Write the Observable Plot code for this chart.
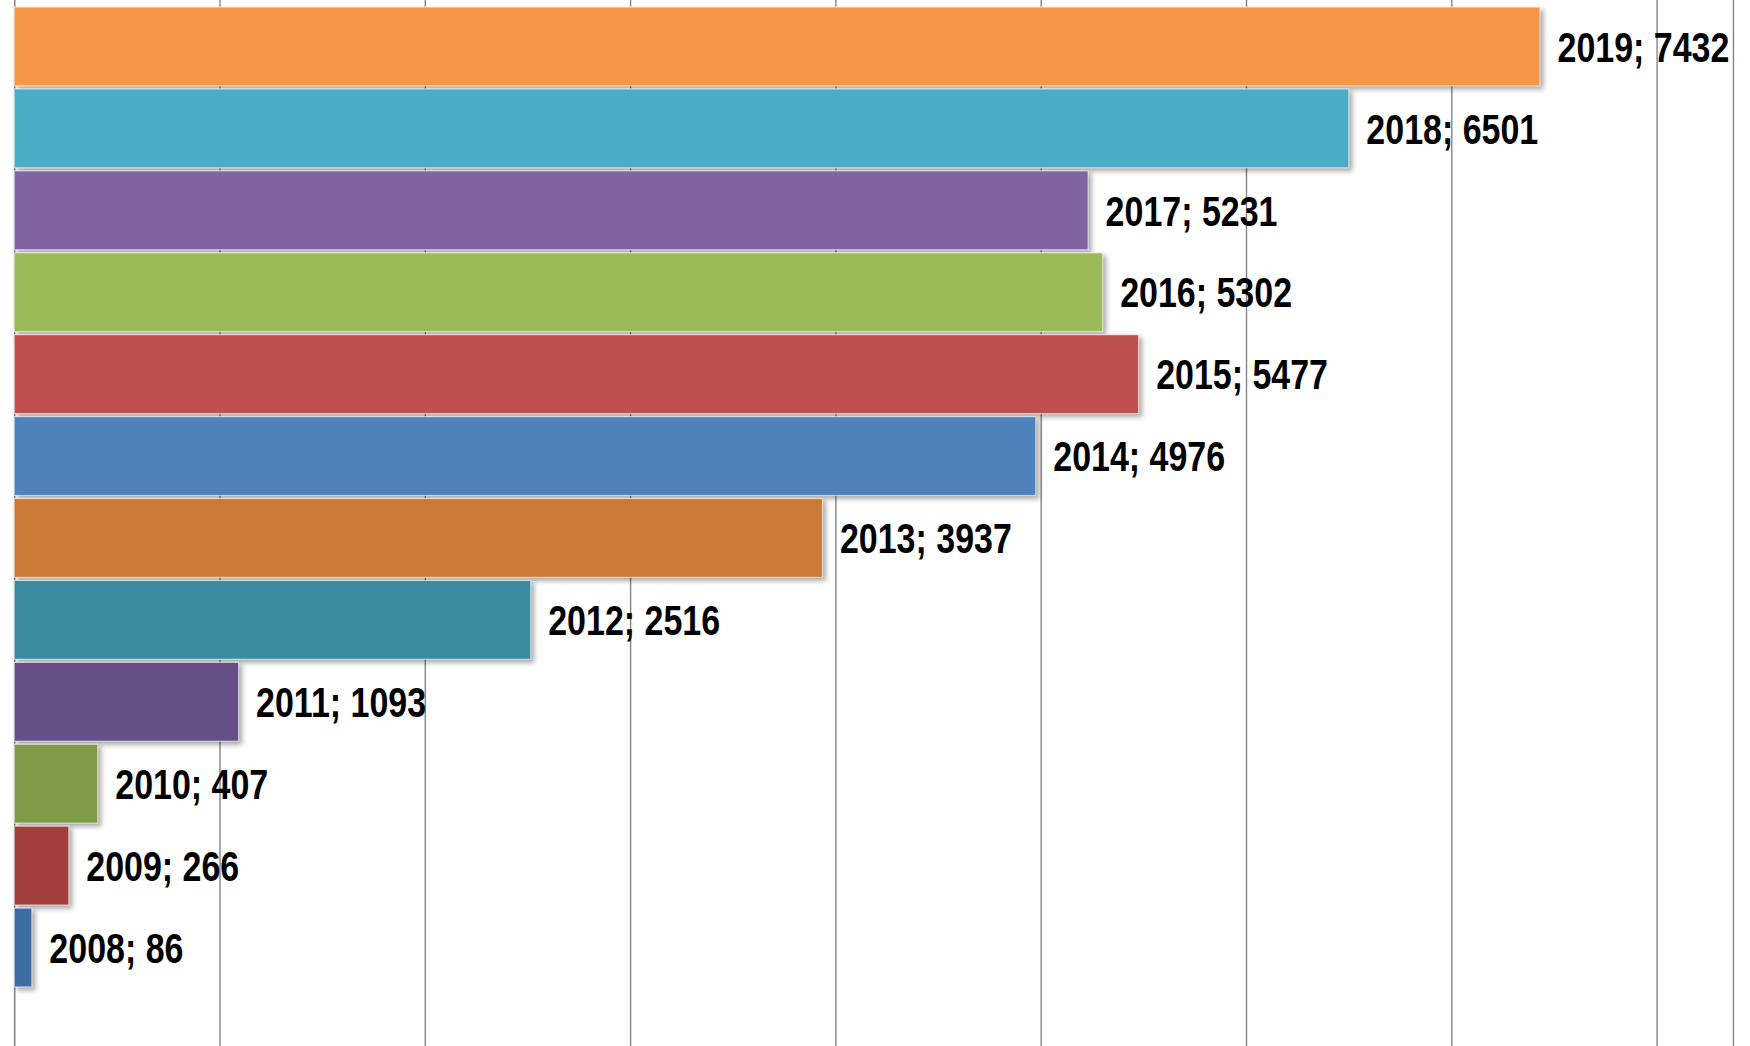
<!DOCTYPE html>
<html>
<head>
<meta charset="utf-8">
<script src="https://cdn.jsdelivr.net/npm/d3@7"></script>
<script src="https://cdn.jsdelivr.net/npm/@observablehq/plot@0.6"></script>
<style>
  html, body { margin: 0; padding: 0; background: #ffffff; }
  #chart svg { display: block; }
</style>
</head>
<body>
<div id="chart"></div>
<script>
// ---- data ----
const years  = [2008, 2009, 2010, 2011, 2012, 2013, 2014, 2015, 2016, 2017, 2018, 2019];
const values = [86, 266, 407, 1093, 2516, 3937, 4976, 5477, 5302, 5231, 6501, 7432];
const barColors = ["#3E6CA5", "#A13F3D", "#7F9B48", "#664E87", "#3A8BA0", "#CB7937",
                   "#4F81BD", "#C0504D", "#9BBB59", "#8064A2", "#4BACC6", "#F79646"];
const gridTicks = [1000, 2000, 3000, 4000, 5000, 6000, 7000, 8000];
const frameEdge = [8372];

const rows = years.map((y, i) => ({year: y, value: values[i], color: barColors[i],
                                   label: `${y}; ${values[i]}`}));

const chart = Plot.plot({
  width: 1750,
  height: 1046,
  marginTop: 0, marginBottom: 0, marginLeft: 0, marginRight: 0,
  x: {domain: [0, 8000], range: [14.2, 1656.6], axis: null},
  y: {domain: years.slice().reverse(), range: [4, 990], padding: 0.037, round: false, axis: null},
  color: {type: "identity"},
  marks: [
    Plot.ruleX(gridTicks, {stroke: "#858585", strokeWidth: 1.4}),
    Plot.ruleX(frameEdge, {stroke: "#858585", strokeWidth: 1.4}),
    Plot.ruleX([0], {stroke: "#858585", strokeWidth: 1.6}),
    Plot.barX(rows, {x: "value", y: "year", fill: "color",
                     stroke: "#ffffff", strokeWidth: 1.2, strokeOpacity: 0.6}),
    Plot.text(rows, {x: "value", y: "year", text: "label", textAnchor: "start",
                     dx: 17, dy: 1, fontSize: 43, fontWeight: "bold",
                     fontFamily: "'Liberation Sans', Arial, sans-serif",
                     fill: "#000000"})
  ]
});

// drop shadow on bars
chart.querySelectorAll('g[aria-label="bar"]').forEach(g => {
  g.style.filter = "drop-shadow(3px 3px 2.5px rgba(0,0,0,0.35))";
});

// horizontally condense the labels (narrow face look), keeping their start anchor
const squeeze = 0.79;
chart.querySelectorAll('g[aria-label="text"] text').forEach(t => {
  const tr = t.getAttribute("transform");
  const x = +t.getAttribute("x") || 0;
  const base = tr ? tr + " " : "";
  t.setAttribute("transform", base + `translate(${x},0) scale(${squeeze},1) translate(${-x},0)`);
});

document.getElementById("chart").appendChild(chart);
</script>
</body>
</html>
